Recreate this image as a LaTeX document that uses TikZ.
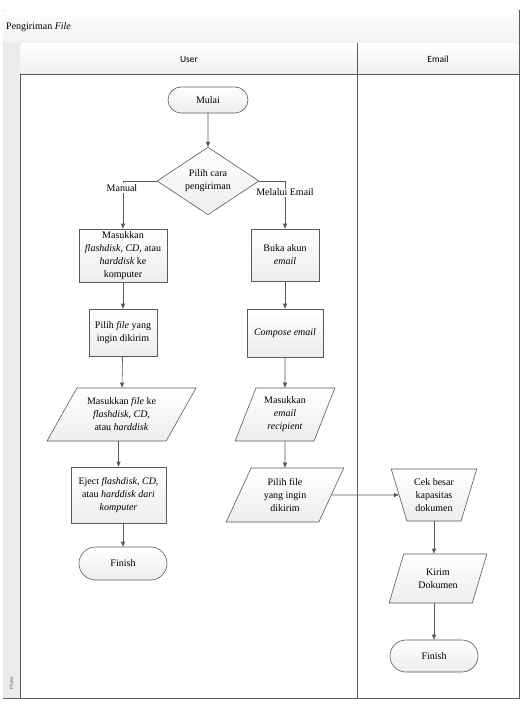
\documentclass[tikz,border=0pt]{standalone}
\usepackage{fontspec}
\setmainfont{Liberation Serif}
\newfontfamily\hdrfont{Carlito}
\usetikzlibrary{shapes.geometric,shapes.misc,arrows.meta}
\definecolor{edgec}{HTML}{5A5A5A}
\tikzset{
  base/.style={draw=edgec,line width=0.6pt,top color=white,bottom color=gray!14,
    align=center,font=\fontsize{10}{13}\selectfont,inner sep=1pt},
  procbox/.style={base,rectangle,minimum width=#1},
  termbox/.style={base,rounded rectangle,minimum height=#1},
  para/.style={base,trapezium,trapezium stretches=true},
  conn/.style={draw=edgec,line width=0.6pt,-{Triangle[length=5pt,width=4pt]}},
  lbl/.style={font=\fontsize{10}{12}\selectfont,inner sep=1pt},
}
\begin{document}
\begin{tikzpicture}[x=1pt,y=-1pt]
\useasboundingbox (0,0) rectangle (525,711);
% pool
\draw[edgec,line width=0.6pt,fill=white] (3,10) rectangle (519,698);
\shade[top color=white,bottom color=gray!10] (3.3,10.3) rectangle (518.7,43);
\draw[edgec,line width=0.6pt] (3,43) -- (519,43);
\fill[gray!15] (3.3,43.3) rectangle (20,697.7);
\draw[edgec,line width=0.6pt] (20,43) -- (20,698);
\shade[top color=white,bottom color=gray!12] (20.3,43.3) rectangle (518.7,74);
\draw[edgec,line width=0.6pt] (20,74) -- (519,74);
\draw[edgec,line width=0.6pt] (357,43) -- (357,698);
\node[lbl,anchor=west] (title) at (5,27) {Pengiriman \textit{File}};
\node[font=\hdrfont\fontsize{9.5}{11}\selectfont] (huser) at (189,59) {User};
\node[font=\hdrfont\fontsize{9.5}{11}\selectfont] (hemail) at (438,59) {Email};
\node[font=\hdrfont\fontsize{5}{6}\selectfont,rotate=90,text=gray!70!black] (phase) at (11.5,683) {Phase};

% user lane
\node[termbox=26pt,minimum width=82pt] (mulai) at (208,100) {Mulai};
\node[base,diamond,minimum width=102pt,minimum height=66pt,inner sep=0pt] (pilih) at (208,181) {Pilih cara\\pengiriman};
\node[procbox=88pt,minimum height=53pt] (masuk) at (123,255.5) {Masukkan\\\textit{flashdisk, CD}, atau\\\textit{harddisk} ke\\komputer};
\node[procbox=68pt,minimum height=47pt] (pfile) at (123,332.5) {Pilih \textit{file} yang\\ingin dikirim};
\node[para,trapezium left angle=56,trapezium right angle=124,minimum width=149pt,minimum height=53pt] (mfile) at (121.5,414.5) {Masukkan \textit{file} ke\\\textit{flashdisk}, \textit{CD},\\atau \textit{harddisk}};
\node[procbox=95pt,minimum height=56pt] (eject) at (118.5,495) {Eject \textit{flashdisk}, \textit{CD},\\atau \textit{harddisk dari}\\\textit{komputer}};
\node[termbox=33pt,minimum width=90pt] (fin1) at (123,563.5) {Finish};

\node[procbox=68pt,minimum height=52pt] (buka) at (285,255) {Buka akun\\\textit{email}};
\node[procbox=76pt,minimum height=48pt] (comp) at (285,333) {\textit{Compose email}};
\node[para,trapezium left angle=67,trapezium right angle=113,minimum width=100pt,minimum height=53pt] (recip) at (285,414.5) {Masukkan\\\textit{email}\\\textit{recipient}};
\node[para,trapezium left angle=65,trapezium right angle=115,minimum width=118pt,minimum height=54pt] (pkirim) at (285,495) {Pilih file\\yang ingin\\dikirim};

% email lane
\node[para,trapezium left angle=71,trapezium right angle=71,shape border rotate=180,minimum width=86pt,minimum height=52pt] (cek) at (434,495) {Cek besar\\kapasitas\\dokumen};
\node[para,trapezium left angle=68,trapezium right angle=112,minimum width=98pt,minimum height=49pt] (kirim) at (438,578.5) {Kirim\\Dokumen};
\node[termbox=32pt,minimum width=90pt] (fin2) at (434,656) {Finish};

% connectors
\draw[conn] (mulai) -- (pilih);
\coordinate (lc) at (123,181);
\coordinate (rc) at (285,181);
\draw[conn] (pilih.west) -- (lc) -- (masuk.north);
\draw[conn] (pilih.east) -- (rc) -- (buka.north);
\node[lbl,fill=white] (lman) at (122,188) {Manual};
\node[lbl,fill=white] (lmel) at (285,192.5) {Melalui Email};
\draw[conn] (masuk) -- (pfile);
\draw[conn] (pfile) -- (mfile);
\draw[conn] (mfile.south -| eject.north) -- (eject.north);
\draw[conn] (eject.south -| fin1.north) -- (fin1.north);
\draw[conn] (buka) -- (comp);
\draw[conn] (comp) -- (recip);
\draw[conn] (recip) -- (pkirim);
\draw[conn] (pkirim) -- (cek);
\draw[conn] (cek.south) -- (cek.south |- kirim.north);
\draw[conn] (kirim.south -| fin2.north) -- (fin2.north);
\end{tikzpicture}
\end{document}
